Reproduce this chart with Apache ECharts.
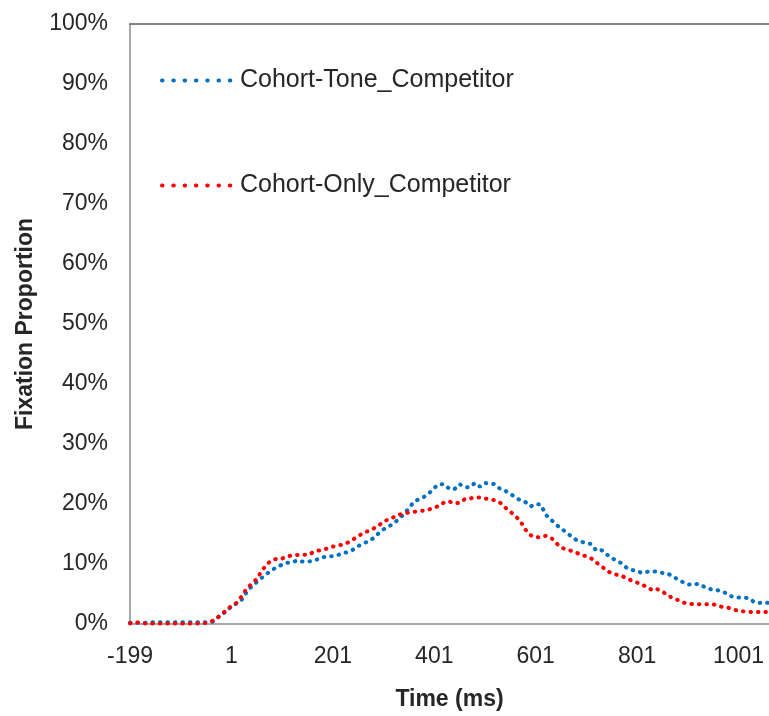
<!DOCTYPE html>
<html>
<head>
<meta charset="utf-8">
<script src="https://cdn.jsdelivr.net/npm/echarts@6/dist/echarts.min.js"></script>
<style>
html,body{margin:0;padding:0;background:#fff;}
#chart{width:769px;height:716px;}
</style>
</head>
<body>
<div id="chart"></div>
<script>
var timeCategories = [-199,-189,-179,-169,-159,-149,-139,-129,-119,-109,-99,-89,-79,-69,-59,-49,-39,-29,-19,-9,
1,11,21,31,41,51,61,71,81,91,101,111,121,131,141,151,161,171,181,191,
201,211,221,231,241,251,261,271,281,291,301,311,321,331,341,351,361,371,381,391,
401,411,421,431,441,451,461,471,481,491,501,511,521,531,541,551,561,571,581,591,
601,611,621,631,641,651,661,671,681,691,701,711,721,731,741,751,761,771,781,791,
801,811,821,831,841,851,861,871,881,891,901,911,921,931,941,951,961,971,981,991,
1001,1011,1021,1031,1041,1051,1061];

var seriesNames = ['Cohort-Tone_Competitor', 'Cohort-Only_Competitor'];

var toneValues = [0.2,0.2,0.2,0.2,0.3,0.3,0.3,0.3,0.3,0.3,0.3,0.3,0.3,0.3,0.3,0.3,
0.3,0.7,1.7,2.0,3.0,3.4,4.0,5.3,6.3,7.0,7.7,8.4,9.0,9.5,9.9,10.2,
10.3,10.6,10.4,10.4,10.5,10.8,11.1,11.3,11.3,11.5,11.8,12.0,12.4,13.0,13.4,13.8,
14.3,15.1,15.8,16.2,16.8,17.5,18.3,19.3,20.4,20.8,21.2,21.8,22.7,23.3,23.3,22.5,
22.5,23.3,22.8,22.8,23.5,22.9,23.5,23.4,23.3,22.5,22.2,21.7,21.1,20.6,20.3,19.6,
20.0,19.9,18.2,17.4,16.6,15.9,15.3,14.6,14.0,13.7,13.5,13.3,12.2,12.3,11.6,11.0,
10.5,10.1,9.3,9.0,8.8,8.5,8.7,8.8,8.7,8.5,8.4,8.0,7.4,7.0,6.6,6.5,
6.7,6.3,5.9,5.7,5.6,5.4,4.8,4.5,4.4,4.4,4.3,3.7,3.5,3.6,3.5];

var onlyValues = [0.1,0.3,0.2,0.1,0.1,0.1,0.1,0.1,0.1,0.1,0.1,0.1,0.1,0.1,0.1,0.2,
0.4,0.9,1.6,2.3,3.0,3.5,4.6,5.9,6.7,7.5,8.9,10.0,10.6,10.9,10.9,11.3,
11.4,11.5,11.6,11.5,11.9,12.2,12.4,12.6,12.9,13.1,13.2,13.6,14.1,14.6,15.2,15.5,
15.9,16.4,17.0,17.5,17.8,18.2,18.4,18.6,18.7,18.8,18.9,19.1,19.4,19.7,20.3,20.4,
20.1,20.2,20.8,20.9,21.1,21.1,20.9,20.8,20.6,20.2,19.4,18.7,18.0,17.1,15.7,14.8,
14.4,14.5,14.7,14.4,13.5,12.8,12.4,12.2,11.9,11.5,11.3,10.9,10.2,9.6,8.9,8.4,
8.2,8.0,7.6,7.2,6.9,6.5,6.2,5.6,5.8,5.4,4.8,4.3,4.0,3.6,3.4,3.3,
3.3,3.3,3.3,3.3,3.0,2.8,2.7,2.4,2.2,2.1,2.0,2.0,2.0,2.0,2.0];

var yTicks = [0,10,20,30,40,50,60,70,80,90,100];

var FONT = 'Liberation Sans';
var TXT = '#262626';
var dotted = [0.5, 7];

var chart = echarts.init(document.getElementById('chart'), null, {renderer:'canvas'});
chart.setOption({
  animation: false,
  backgroundColor: '#ffffff',
  grid: {left:130, right:0, top:24, bottom:88, containLabel:false},
  legend: {
    orient: 'vertical',
    left: 160, top: 68,
    padding: 0,
    itemGap: 80,
    itemWidth: 73,
    itemHeight: 14,
    data: seriesNames,
    textStyle: {fontFamily: FONT, fontSize: 25, color: TXT},
    itemStyle: {color: 'rgba(0,0,0,0)', borderWidth: 0, opacity: 0},
    lineStyle: {width: 4, type: [0.5, 10.8], cap: 'round'}
  },
  xAxis: [{
    type: 'category',
    data: timeCategories,
    boundaryGap: false,
    position: 'bottom',
    name: 'Time (ms)',
    nameLocation: 'middle',
    nameGap: 64,
    nameTextStyle: {fontFamily: FONT, fontSize: 23, fontWeight: 'bold', color: TXT},
    axisLine: {show:true, lineStyle:{color:'#8c8c8c', width:1.5}},
    axisTick: {show:false},
    axisLabel: {interval: 19, margin: 21, fontFamily: FONT, fontSize: 23, color: TXT},
    splitLine: {show:false}
  },{
    type: 'category',
    data: timeCategories,
    boundaryGap: false,
    position: 'top',
    axisLine: {show:true, lineStyle:{color:'#595959', width:1.5}},
    axisTick: {show:false},
    axisLabel: {show:false},
    splitLine: {show:false}
  }],
  yAxis: {
    type: 'value',
    min: yTicks[0], max: yTicks[yTicks.length-1], interval: 10,
    name: 'Fixation Proportion',
    nameLocation: 'middle',
    nameGap: 93,
    nameRotate: 90,
    nameTextStyle: {fontFamily: FONT, fontSize: 23, fontWeight: 'bold', color: TXT},
    axisLine: {show:true, lineStyle:{color:'#8c8c8c', width:1.5}},
    axisTick: {show:false},
    axisLabel: {margin: 22, fontFamily: FONT, fontSize: 23, color: TXT, formatter: '{value}%'},
    splitLine: {show:false}
  },
  series: [{
    name: seriesNames[0],
    type: 'line',
    data: toneValues,
    symbol: 'none',
    color: '#0070C0',
    lineStyle: {color:'#0070C0', width: 4, type: dotted, cap: 'round'}
  },{
    name: seriesNames[1],
    type: 'line',
    data: onlyValues,
    symbol: 'none',
    color: '#FF0000',
    lineStyle: {color:'#FF0000', width: 4, type: dotted, cap: 'round'}
  }]
});
</script>
</body>
</html>
